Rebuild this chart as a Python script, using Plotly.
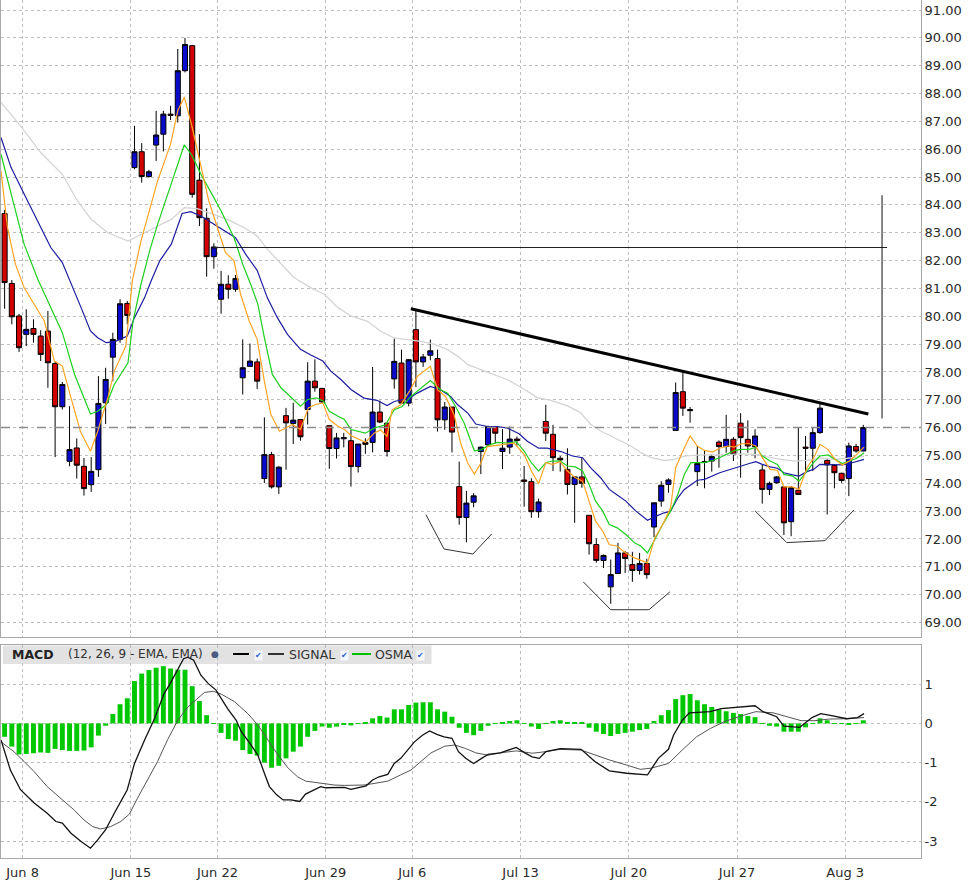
import plotly.graph_objects as go

# candle index -> 3 bars per trading day, Jun 5 .. Aug 3
week_pos = [2.5, 17.5, 29.5, 44.5, 56.5, 71.5, 86.5, 101.5, 116.5]
week_labels = ['Jun 8', 'Jun 15', 'Jun 22', 'Jun 29', 'Jul 6', 'Jul 13', 'Jul 20', 'Jul 27', 'Aug 3']

opens = [83.69, 81.18, 80.01, 79.35, 79.56, 79.29, 79.47, 78.30, 76.75, 74.79,
         75.27, 74.61, 73.95, 74.49, 76.89, 78.53, 79.17, 80.46, 85.34, 85.91,
         85.02, 86.15, 86.54, 87.26, 87.20, 88.82, 89.72, 84.89, 83.52, 82.14,
         80.61, 81.15, 80.97, 77.79, 78.20, 78.36, 74.17, 75.03, 73.87, 76.43,
         76.15, 76.29, 76.65, 77.67, 77.41, 76.07, 75.25, 75.60, 75.53, 74.60,
         75.47, 75.47, 76.56, 76.16, 77.75, 78.32, 76.88, 79.52, 78.36, 78.60,
         78.48, 76.28, 76.74, 73.88, 72.77, 73.32, 75.14, 75.38, 76.04, 75.14,
         75.30, 75.59, 74.12, 74.06, 72.98, 76.22, 75.76, 74.90, 74.50, 73.96,
         74.23, 72.85, 71.80, 71.23, 70.28, 70.76, 71.50, 71.08, 70.87, 71.12,
         72.43, 73.36, 73.96, 75.90, 77.29, 76.65, 74.42, 74.75, 74.80, 75.48,
         75.32, 75.58, 76.16, 75.58, 75.32, 74.48, 73.78, 74.02, 73.87, 72.62,
         73.75, 75.30, 75.26, 75.82, 74.82, 74.64, 74.36, 74.17, 75.32, 75.16]
highs = [83.82, 81.30, 80.09, 80.25, 79.89, 79.50, 80.19, 78.39, 77.64, 76.77,
         75.61, 74.91, 74.94, 77.85, 78.15, 79.41, 80.61, 80.55, 86.84, 86.22,
         85.26, 87.38, 87.38, 87.56, 89.60, 90.00, 89.75, 86.54, 83.88, 82.62,
         81.63, 81.47, 81.48, 79.17, 79.02, 78.48, 76.37, 75.13, 74.61, 76.71,
         76.89, 76.30, 78.35, 78.45, 77.42, 76.08, 75.81, 75.81, 75.92, 75.41,
         75.62, 78.18, 76.97, 76.16, 79.20, 78.80, 78.46, 80.24, 78.65, 79.16,
         78.80, 76.92, 76.74, 74.78, 73.73, 73.65, 75.32, 76.07, 76.04, 75.95,
         76.04, 75.68, 74.62, 74.18, 73.45, 76.82, 76.10, 74.98, 75.26, 74.26,
         74.94, 72.85, 72.02, 71.44, 71.26, 71.86, 71.56, 71.54, 71.50, 71.29,
         73.30, 74.08, 74.18, 77.62, 77.98, 76.74, 75.34, 75.16, 75.04, 75.54,
         76.46, 75.66, 76.52, 76.26, 75.94, 74.66, 74.06, 74.26, 73.87, 73.90,
         76.00, 75.70, 76.00, 76.90, 74.90, 74.68, 74.38, 75.46, 75.42, 76.10]
lows = [80.27, 79.71, 78.72, 78.93, 79.05, 78.39, 77.43, 74.94, 76.65, 74.61,
        74.17, 73.56, 73.69, 74.23, 76.13, 77.67, 79.05, 79.71, 85.28, 84.80,
        84.98, 85.58, 85.92, 87.05, 86.96, 88.76, 84.26, 83.24, 81.42, 81.71,
        80.09, 80.63, 80.88, 77.19, 78.19, 77.39, 74.01, 73.81, 73.62, 74.49,
        75.41, 75.53, 76.11, 77.29, 76.89, 74.52, 74.89, 75.29, 73.88, 74.39,
        75.06, 75.11, 76.16, 74.96, 77.40, 76.85, 76.76, 77.46, 78.18, 78.42,
        75.86, 75.92, 75.11, 72.51, 71.88, 73.14, 74.33, 75.32, 75.44, 74.51,
        75.06, 75.35, 73.16, 72.76, 72.76, 75.52, 74.44, 74.42, 73.60, 72.58,
        73.84, 71.44, 71.15, 70.96, 69.67, 70.76, 70.78, 70.46, 70.72, 70.57,
        72.07, 73.16, 73.66, 75.90, 76.42, 76.18, 73.90, 73.82, 74.42, 74.56,
        75.10, 74.80, 74.20, 75.10, 74.90, 73.27, 73.58, 73.99, 72.14, 72.10,
        73.60, 74.38, 74.44, 75.78, 72.88, 73.82, 74.02, 73.54, 75.10, 75.16]
closes = [81.21, 79.98, 78.87, 79.53, 79.35, 78.63, 78.33, 76.75, 77.55, 75.21,
          74.65, 73.81, 74.43, 76.87, 77.73, 79.17, 80.45, 80.03, 85.91, 85.02,
          85.19, 86.51, 87.26, 87.22, 88.82, 89.76, 84.38, 83.54, 82.14, 82.49,
          81.15, 80.97, 81.36, 78.15, 78.39, 77.67, 75.03, 73.87, 74.58, 76.17,
          76.27, 75.67, 77.67, 77.43, 76.92, 75.25, 75.63, 75.64, 74.60, 75.41,
          75.40, 76.56, 76.20, 75.14, 78.38, 76.88, 78.44, 78.36, 78.54, 78.76,
          76.28, 76.74, 75.84, 72.77, 73.29, 73.55, 75.30, 76.04, 75.80, 75.26,
          75.59, 75.54, 74.07, 72.98, 73.33, 75.80, 74.92, 74.84, 73.96, 74.23,
          74.00, 71.83, 71.23, 71.41, 70.72, 71.50, 71.30, 70.87, 71.12, 70.72,
          73.30, 73.93, 74.12, 77.26, 76.70, 76.61, 74.71, 74.78, 74.96, 75.32,
          75.58, 75.04, 75.64, 75.34, 75.70, 73.78, 74.00, 74.23, 72.58, 73.84,
          73.60, 75.26, 75.82, 76.70, 74.66, 74.38, 74.10, 75.34, 75.16, 76.00]

# moving averages (candle index, price)
fast_idx = [-0.5, 0.4, 1.5, 2.7, 4.1, 5.5, 6.9, 8.0, 9.2, 10.5, 11.9, 12.9, 14.3, 15.2, 16.8, 17.7,
            18.9, 20.0, 21.2, 22.1, 23.0, 24.0, 24.9, 26.0, 27.2, 28.3, 29.5, 30.6, 31.8, 32.7,
            33.9, 35.0, 36.0, 36.9, 38.1, 39.0, 39.9, 41.0, 42.1, 43.1, 44.1, 45.0, 46.2, 47.1,
            48.0, 50.0, 51.2, 52.1, 53.0, 53.7, 54.9, 56.1, 57.2, 59.0, 60.0, 61.1, 62.3, 63.2,
            64.2, 65.1, 66.0, 66.9, 67.9, 69.2, 70.6, 72.0, 73.0, 74.0, 75.0, 75.9, 77.0, 78.0,
            79.1, 80.1, 81.0, 81.9, 82.9, 83.8, 84.9, 86.1, 87.3, 88.2, 89.1, 90.1, 91.2, 92.3,
            93.0, 94.0, 95.0, 96.0, 97.0, 98.1, 99.1, 100.2, 101.1, 102.1, 103.2, 104.1, 105.0,
            106.1, 107.1, 108.0, 109.2, 110.1, 111.2, 112.1, 113.0, 114.1, 115.1, 116.1, 117.1,
            118.1, 119.1]
fast_val = [85.22, 83.18, 81.87, 81.03, 80.43, 79.83, 78.39, 78.21, 77.07, 75.87, 75.15, 75.87,
            77.07, 78.03, 78.93, 81.27, 82.71, 83.78, 84.86, 85.52, 86.18, 87.38, 87.88, 86.78,
            85.34, 84.14, 83.18, 82.29, 81.99, 80.79, 79.83, 79.17, 77.67, 76.47, 75.87, 75.99,
            76.11, 75.93, 76.71, 76.83, 76.89, 76.29, 76.05, 75.93, 75.72, 75.47, 75.80, 75.92,
            75.68, 76.64, 76.82, 77.30, 77.84, 78.20, 77.36, 77.12, 76.46, 75.44, 74.72, 74.33,
            74.72, 75.32, 75.35, 75.38, 75.44, 75.04, 74.44, 73.99, 74.74, 74.68, 74.78, 74.44,
            74.20, 74.08, 73.36, 72.64, 72.28, 71.80, 71.74, 71.50, 71.32, 71.23, 71.14, 72.04,
            72.52, 73.12, 74.56, 75.16, 75.70, 75.34, 75.18, 75.12, 75.26, 75.34, 75.30, 75.42,
            75.42, 75.34, 74.92, 74.50, 74.47, 73.87, 73.87, 73.78, 74.56, 74.90, 75.40, 75.22,
            74.86, 74.66, 74.80, 75.04, 75.30]

mid_idx = [-0.5, 0.9, 2.7, 4.6, 6.4, 8.0, 9.7, 11.9, 12.9, 14.1, 15.2, 17.1, 17.8, 18.9, 20.1,
           21.2, 22.6, 23.5, 24.9, 26.0, 27.2, 29.0, 30.0, 31.8, 33.0, 34.1, 35.1, 36.0, 37.1,
           38.3, 39.7, 41.0, 42.0, 43.2, 44.2, 45.0, 46.2, 47.1, 48.0, 50.0, 51.2, 52.8, 54.0,
           55.1, 56.3, 57.7, 59.0, 60.4, 61.4, 62.5, 63.7, 65.1, 66.0, 67.2, 68.3, 69.7, 70.9,
           72.0, 73.0, 74.0, 75.0, 75.9, 77.0, 78.0, 79.1, 80.1, 81.0, 81.9, 82.9, 83.8, 84.9,
           86.1, 87.3, 88.2, 89.1, 90.1, 91.2, 92.3, 93.3, 94.2, 95.1, 96.0, 97.0, 98.1, 99.1,
           100.2, 101.2, 102.1, 103.2, 104.1, 105.0, 106.1, 107.1, 108.0, 109.2, 110.1, 111.2,
           112.1, 113.0, 114.1, 115.1, 116.1, 117.1, 118.1, 119.1]
mid_val = [85.82, 84.38, 82.59, 81.33, 80.31, 79.41, 77.91, 76.49, 76.59, 76.83, 77.55, 78.33,
           79.83, 81.15, 82.35, 83.30, 84.38, 85.10, 86.16, 85.76, 85.10, 84.26, 83.78, 82.82,
           81.87, 81.15, 80.43, 79.23, 77.91, 77.43, 77.07, 76.77, 77.01, 77.07, 76.95, 76.59,
           76.41, 76.29, 75.93, 75.80, 75.98, 76.10, 76.64, 76.76, 77.12, 77.42, 77.69, 77.36,
           77.24, 76.76, 76.16, 75.17, 75.20, 75.38, 75.47, 75.44, 75.50, 75.16, 74.74, 74.44,
           74.74, 74.80, 74.80, 74.62, 74.59, 74.44, 73.96, 73.36, 73.00, 72.52, 72.40, 72.16,
           71.86, 71.74, 71.50, 71.98, 72.52, 73.00, 73.60, 74.32, 74.74, 74.74, 74.74, 74.82,
           74.92, 75.06, 75.18, 75.22, 75.22, 75.30, 74.98, 74.80, 74.68, 74.32, 74.26, 74.08,
           74.44, 74.74, 74.98, 75.02, 74.86, 74.71, 74.80, 74.90, 75.10]

slow_idx = [-0.5, 0.9, 2.5, 4.6, 6.4, 8.0, 9.2, 10.6, 11.9, 12.9, 14.1, 15.2, 17.0, 18.0, 19.4,
            20.3, 21.5, 23.1, 24.6, 25.8, 27.2, 29.0, 30.4, 32.0, 33.4, 35.0, 36.4, 37.8, 39.2,
            41.0, 42.5, 44.1, 45.2, 46.6, 48.0, 49.8, 51.6, 53.0, 54.0, 54.9, 56.1, 57.2, 59.0,
            60.4, 61.8, 62.8, 64.2, 65.3, 66.9, 68.3, 69.7, 71.3, 72.4, 74.0, 75.2, 77.1, 78.7,
            80.1, 81.2, 82.6, 83.8, 84.9, 86.1, 87.5, 89.1, 90.3, 91.4, 92.3, 93.3, 94.2, 95.1,
            96.0, 97.0, 98.1, 99.1, 100.2, 101.2, 102.1, 103.2, 104.1, 105.0, 106.1, 107.1, 108.0,
            109.2, 110.1, 111.2, 112.1, 113.0, 114.1, 115.1, 116.1, 117.1, 118.1, 119.1]
slow_val = [86.42, 85.34, 84.50, 83.42, 82.47, 81.93, 81.15, 80.31, 79.47, 79.23, 79.05, 79.08,
            79.29, 79.95, 80.67, 81.27, 81.99, 82.59, 83.69, 83.76, 83.60, 83.30, 83.06, 82.82,
            82.23, 81.65, 80.67, 79.95, 79.35, 78.81, 78.60, 78.39, 78.03, 77.73, 77.37, 77.06,
            76.98, 76.79, 76.94, 77.00, 77.06, 77.24, 77.48, 77.36, 77.12, 76.82, 76.52, 76.13,
            76.04, 76.04, 75.98, 75.78, 75.52, 75.26, 75.26, 75.14, 74.98, 74.92, 74.56, 74.20,
            73.78, 73.58, 73.36, 73.00, 72.67, 72.82, 72.94, 73.00, 73.48, 73.78, 73.96, 74.11,
            74.14, 74.26, 74.38, 74.47, 74.54, 74.62, 74.71, 74.78, 74.68, 74.59, 74.54, 74.38,
            74.30, 74.26, 74.42, 74.50, 74.68, 74.68, 74.66, 74.66, 74.71, 74.78, 74.86]

long_idx = [-0.5, 2.2, 5.0, 8.0, 10.1, 12.0, 14.3, 17.1, 19.4, 21.2, 23.1, 24.9, 26.7, 29.0,
            31.4, 33.2, 35.0, 36.4, 38.3, 40.1, 42.4, 44.3, 46.2, 48.0, 50.3, 52.1, 54.0, 55.8,
            57.7, 59.5, 61.4, 62.8, 64.2, 66.0, 67.9, 69.7, 72.0, 73.8, 75.7, 78.0, 79.8, 81.2,
            82.6, 84.0, 85.4, 86.8, 88.2, 89.6, 91.4, 92.8, 94.2, 96.5, 99.2, 102.0, 103.9, 105.7,
            107.6, 109.4, 111.3, 113.1, 115.0, 116.8, 119.1]
long_val = [87.68, 86.84, 85.88, 85.10, 84.14, 83.48, 83.00, 82.70, 83.00, 83.24, 83.48, 83.90,
            83.87, 83.66, 83.42, 83.18, 82.88, 82.41, 81.87, 81.39, 81.03, 80.79, 80.31, 80.01,
            79.82, 79.46, 79.22, 79.16, 79.10, 79.00, 78.80, 78.56, 78.26, 78.08, 77.90, 77.72,
            77.38, 77.08, 76.98, 76.78, 76.54, 76.12, 75.88, 75.70, 75.52, 75.34, 75.10, 74.92,
            74.82, 74.86, 74.98, 75.02, 75.02, 75.06, 75.04, 74.94, 74.86, 74.80, 74.82, 74.90,
            74.86, 74.90, 74.98]

# MACD panel
osma = [-0.34, -0.59, -0.79, -0.78, -0.76, -0.74, -0.75, -0.65, -0.68, -0.70,
        -0.70, -0.69, -0.61, -0.31, -0.06, 0.24, 0.49, 0.64, 1.08, 1.27,
        1.36, 1.42, 1.46, 1.40, 1.37, 1.37, 0.95, 0.57, 0.21, 0.01,
        -0.24, -0.40, -0.44, -0.68, -0.78, -0.82, -1.00, -1.13, -1.08, -0.89,
        -0.72, -0.59, -0.34, -0.19, -0.08, -0.11, -0.08, -0.03, -0.05, 0.01,
        0.03, 0.13, 0.19, 0.15, 0.36, 0.36, 0.47, 0.53, 0.54, 0.54,
        0.36, 0.30, 0.17, -0.11, -0.24, -0.30, -0.19, -0.06, -0.01, 0.03,
        0.06, 0.08, 0.01, -0.08, -0.14, 0.01, 0.06, 0.08, 0.03, 0.03,
        0.03, -0.11, -0.21, -0.27, -0.32, -0.27, -0.24, -0.21, -0.17, -0.14,
        0.06, 0.21, 0.34, 0.62, 0.72, 0.75, 0.59, 0.49, 0.42, 0.36,
        0.31, 0.27, 0.24, 0.19, 0.16, 0.01, -0.06, -0.08, -0.21, -0.21,
        -0.21, -0.10, 0.01, 0.13, 0.08, 0.01, 0.01, -0.03, 0.01, 0.08]

macd_idx = [-0.5, 0.8, 2.2, 4.1, 5.9, 7.1, 8.0, 9.2, 10.6, 11.9, 12.9, 14.0, 15.2, 17.0, 18.0,
            19.4, 20.8, 22.1, 22.8, 24.0, 24.8, 25.4, 26.2, 27.2, 28.2, 29.3, 30.0, 30.9, 32.1,
            32.8, 34.0, 35.1, 36.0, 36.7, 37.7, 38.6, 39.7, 40.9, 41.7, 42.9, 43.8, 44.5, 45.7,
            47.1, 48.0, 49.2, 50.1, 51.0, 51.9, 53.1, 54.0, 54.9, 55.8, 56.8, 57.9, 58.9, 59.9,
            60.9, 62.0, 62.9, 63.9, 65.0, 66.1, 67.0, 68.7, 70.9, 72.1, 73.1, 74.1, 75.0, 77.0,
            79.9, 81.8, 83.8, 86.2, 89.1, 90.6, 92.0, 92.7, 93.9, 94.9, 97.8, 99.3, 101.7, 104.0,
            105.1, 107.0, 108.0, 110.2, 111.9, 113.1, 114.8, 116.7, 118.2, 119.1]
macd_val = [-0.42, -1.19, -1.69, -2.03, -2.29, -2.50, -2.54, -2.80, -3.01, -3.18, -2.97, -2.71,
            -2.29, -1.69, -1.02, -0.42, 0.13, 0.76, 0.97, 1.36, 1.65, 1.69, 1.61, 1.23, 1.02,
            0.85, 0.64, 0.38, 0.08, -0.21, -0.51, -0.81, -1.27, -1.61, -1.82, -1.95, -1.95,
            -1.99, -1.80, -1.68, -1.61, -1.64, -1.64, -1.63, -1.68, -1.63, -1.59, -1.44, -1.36,
            -1.30, -1.02, -0.89, -0.68, -0.47, -0.30, -0.19, -0.28, -0.34, -0.38, -0.72, -0.89,
            -1.02, -0.89, -0.79, -0.75, -0.61, -0.75, -0.85, -0.89, -0.72, -0.64, -0.66, -0.97,
            -1.21, -1.27, -1.31, -0.89, -0.66, -0.30, 0.08, 0.27, 0.30, 0.38, 0.42, 0.45, 0.30,
            0.17, -0.07, -0.10, 0.15, 0.25, 0.19, 0.12, 0.15, 0.25]

signal_idx = [-0.5, 1.3, 2.7, 4.1, 5.9, 7.8, 9.6, 11.0, 12.2, 13.3, 14.7, 16.1, 17.3, 18.4, 19.8,
              21.2, 22.6, 24.0, 25.4, 26.8, 27.7, 28.9, 30.0, 31.9, 33.7, 35.1, 36.5, 37.9, 39.3,
              40.6, 41.7, 43.1, 44.5, 45.7, 47.1, 48.4, 49.8, 51.2, 53.1, 54.9, 56.3, 57.7, 59.1,
              61.0, 62.4, 63.9, 65.3, 67.0, 68.7, 70.9, 73.1, 75.0, 77.0, 79.9, 81.8, 83.8, 86.2,
              88.1, 89.6, 92.0, 93.9, 95.9, 97.8, 99.7, 101.7, 104.1, 106.5, 108.5, 110.4, 112.3,
              114.2, 116.7, 119.1]
signal_val = [-0.47, -0.72, -0.97, -1.23, -1.61, -1.91, -2.20, -2.46, -2.63, -2.69, -2.63, -2.50,
              -2.31, -1.91, -1.44, -0.97, -0.41, 0.08, 0.42, 0.66, 0.79, 0.82, 0.75, 0.55, 0.25,
              -0.04, -0.42, -0.81, -1.14, -1.36, -1.47, -1.50, -1.54, -1.57, -1.58, -1.58, -1.57,
              -1.53, -1.47, -1.31, -1.19, -0.97, -0.75, -0.58, -0.55, -0.64, -0.75, -0.81, -0.75,
              -0.70, -0.76, -0.72, -0.66, -0.68, -0.81, -0.93, -1.06, -1.17, -1.14, -1.02, -0.68,
              -0.34, -0.13, 0.04, 0.17, 0.30, 0.27, 0.17, 0.07, 0.07, 0.11, 0.12, 0.15]

# hand drawn studies (candle index, price)
trend_x = [56.3, 119.7]
trend_y = [80.27, 76.49]
resist_x = [29.0, 122.3]
resist_y = [82.47, 82.47]
target_x = [121.6, 121.6]
target_y = [84.35, 76.33]
cup1_x = [58.4, 60.9, 64.9, 67.5]
cup1_y = [72.87, 71.64, 71.46, 72.18]
cup2_x = [80.2, 84.0, 89.3, 92.2]
cup2_y = [70.46, 69.46, 69.46, 70.10]
cup3_x = [104.0, 108.4, 113.7, 117.7]
cup3_y = [73.01, 71.87, 71.94, 73.04]

idx = list(range(len(closes)))
price_ticks = list(range(69, 92))
macd_ticks = [-3, -2, -1, 0, 1]

FONT = 'DejaVu Sans'
GRID = '#bdbdbd'

fig = go.Figure()

for xs, ys, col, w in [(long_idx, long_val, '#d4d4d4', 1.3),
                       (slow_idx, slow_val, '#1c1ca0', 1.2),
                       (mid_idx, mid_val, '#1ecf1e', 1.2),
                       (fast_idx, fast_val, '#ffa424', 1.2)]:
    fig.add_trace(go.Scatter(x=xs, y=ys, mode='lines', line=dict(color=col, width=w),
                             xaxis='x', yaxis='y', hoverinfo='skip'))

fig.add_trace(go.Candlestick(
    x=idx, open=opens, high=highs, low=lows, close=closes,
    increasing=dict(line=dict(color='#000000', width=1), fillcolor='#0a0acc'),
    decreasing=dict(line=dict(color='#000000', width=1), fillcolor='#d40000'),
    xaxis='x', yaxis='y'))

for xs, ys, w, col in [(trend_x, trend_y, 3, '#000000'),
                       (resist_x, resist_y, 1, '#222222'),
                       (target_x, target_y, 1, '#111111'),
                       (cup1_x, cup1_y, 1, '#333333'),
                       (cup2_x, cup2_y, 1, '#333333'),
                       (cup3_x, cup3_y, 1, '#333333')]:
    fig.add_trace(go.Scatter(x=xs, y=ys, mode='lines', line=dict(color=col, width=w),
                             xaxis='x', yaxis='y', hoverinfo='skip'))

fig.add_trace(go.Bar(x=idx, y=osma, marker=dict(color='#00c800', line=dict(width=0)),
                     xaxis='x2', yaxis='y2'))
fig.add_trace(go.Scatter(x=signal_idx, y=signal_val, mode='lines',
                         line=dict(color='#555555', width=1), xaxis='x2', yaxis='y2'))
fig.add_trace(go.Scatter(x=macd_idx, y=macd_val, mode='lines',
                         line=dict(color='#111111', width=1.3), xaxis='x2', yaxis='y2'))

x_range = [-0.5, 127.0]
axis_common = dict(showgrid=True, gridcolor=GRID, griddash='dot', gridwidth=1,
                   showline=True, linecolor='#a8a8a8', mirror=True, zeroline=False)

fig.update_layout(
    width=978, height=886,
    margin=dict(l=1, r=57, t=0, b=28),
    paper_bgcolor='white', plot_bgcolor='rgba(0,0,0,0)',
    showlegend=False, bargap=0.32, boxgap=0.3, boxgroupgap=0,
    font=dict(family=FONT, size=13, color='#2a2a2a'),
    xaxis=dict(domain=[0, 1], anchor='y', range=x_range, matches='x2',
               tickvals=week_pos, showticklabels=False, ticks='',
               rangeslider=dict(visible=False), **axis_common),
    xaxis2=dict(domain=[0, 1], anchor='y2', range=x_range,
                tickvals=week_pos, ticktext=week_labels, ticks='outside', ticklen=2,
                tickcolor='rgba(0,0,0,0)', **axis_common),
    yaxis=dict(domain=[0.2576, 1], anchor='x', side='right', range=[68.48, 91.36],
               tickvals=price_ticks, ticktext=['%.2f' % v for v in price_ticks],
               ticks='', **axis_common),
    yaxis2=dict(domain=[0, 0.2483], anchor='x2', side='right', range=[-3.43, 2.0],
                tickvals=macd_ticks, ticktext=[str(v) for v in macd_ticks],
                ticks='', **axis_common),
)

# last price line
fig.add_shape(type='line', xref='x domain', yref='y', x0=0, x1=1, y0=closes[-1], y1=closes[-1],
              line=dict(color='#8c8c8c', width=1.5, dash='dash'))

# MACD header strip (under grid and traces, like the original)
hy = 1 - 654 / 858
fig.add_shape(type='rect', xref='paper', yref='paper', x0=0.002, x1=0.468,
              y0=1 - 664 / 858, y1=1 - 645.5 / 858, fillcolor='#e2e2e2', line=dict(width=0),
              layer='below')
for x0, x1, col in [(232, 248, '#000000'), (267, 283, '#333333'), (351, 370, '#00c000')]:
    fig.add_shape(type='line', xref='paper', yref='paper', x0=x0 / 920, x1=x1 / 920,
                  y0=hy, y1=hy, line=dict(color=col, width=2))
header = [(9, '<b>MACD</b>', 12.5, '#222222'),
          (65, '(12, 26, 9 - EMA, EMA)', 12, '#333333'),
          (208, '●', 9, '#4a5a80'),
          (286, 'SIGNAL', 12.5, '#333333'),
          (372, 'OSMA', 12.5, '#333333')]
for px, txt, sz, col in header:
    fig.add_annotation(xref='paper', yref='paper', x=px / 920, y=hy, text=txt, showarrow=False,
                       xanchor='left', yanchor='middle', font=dict(size=sz, color=col, family=FONT))
for px in [253, 339, 415]:
    fig.add_annotation(xref='paper', yref='paper', x=px / 920, y=hy - 0.002, text='✔',
                       showarrow=False, xanchor='left', yanchor='middle',
                       bgcolor='#f4f6fb', borderpad=0,
                       font=dict(size=8, color='#1e5bd8', family=FONT))

# page margin off so the figure sits at the window corner
fig.write_html("out.html", config={'displayModeBar': False},
               post_script="document.body.style.margin='0';")
